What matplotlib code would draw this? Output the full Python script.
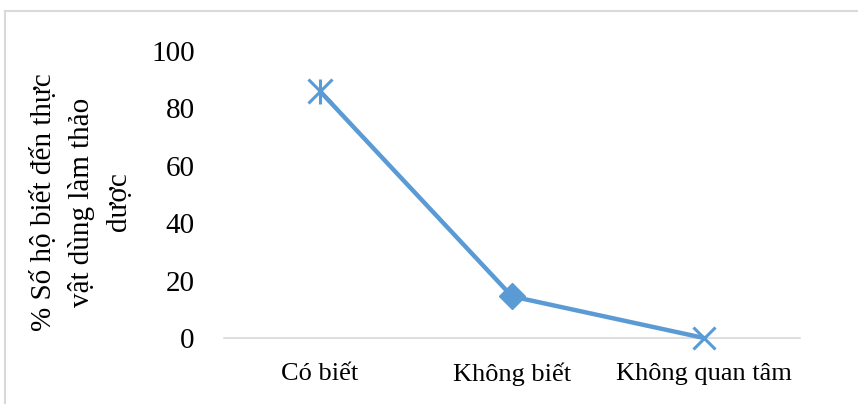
import matplotlib.pyplot as plt
from matplotlib.lines import Line2D

# Share of households that know which plants are used as herbal medicine
categories = ["Có biết", "Không biết", "Không quan tâm"]
percent = [86, 14.5, 0]
y_ticks = [0, 20, 40, 60, 80, 100]
y_label = "% Số hộ biết đến thực\nvật dùng làm thảo\ndược"

line_color = "#5B9BD5"
point_markers = ["star", "D", "x"]

plt.rcParams["font.family"] = ["Liberation Serif", "DejaVu Serif"]

W, H = 858, 404
fig = plt.figure(figsize=(W / 100, H / 100), dpi=100)
ax = fig.add_axes([224 / W, 1 - 338 / H, 576 / W, 287 / H])

x = list(range(len(categories)))
ax.plot(x, percent, color=line_color, lw=3.2, solid_capstyle="round", zorder=3,
        clip_on=False)

for xi, yi, m in zip(x, percent, point_markers):
    if m == "star":
        # X with a vertical stroke through it
        ax.plot(xi, yi, marker="x", ms=17, mew=2.2, color=line_color, zorder=4, clip_on=False)
        ax.plot(xi, yi, marker="|", ms=18, mew=2.2, color=line_color, zorder=4, clip_on=False)
    elif m == "D":
        ax.plot(xi, yi, marker="D", ms=13, color=line_color, mec=line_color, zorder=4,
                clip_on=False)
    else:
        ax.plot(xi, yi, marker="x", ms=16, mew=2.2, color=line_color, zorder=4, clip_on=False)

ax.set_xlim(-0.5, len(categories) - 0.5)
ax.set_ylim(0, 100)
ax.set_yticks(y_ticks)
ax.set_yticklabels([str(v) for v in y_ticks], fontsize=21)
ax.set_xticks(x)
ax.set_xticklabels(categories, fontsize=19)
ax.tick_params(axis="y", length=0, pad=21)
ax.tick_params(axis="x", length=0, pad=18)

for side in ["top", "right", "left"]:
    ax.spines[side].set_visible(False)
ax.spines["bottom"].set_color("#D9D9D9")
ax.spines["bottom"].set_linewidth(1.2)
ax.set_facecolor("none")

fig.text(81 / W, 1 - 202 / H, y_label, rotation=90, ha="center", va="center",
         multialignment="center", fontsize=21, linespacing=1.55)

# thin grey frame on the top and left edges
fig.add_artist(Line2D([5 / W, 1], [1 - 11 / H, 1 - 11 / H], color="#D9D9D9", lw=1.5))
fig.add_artist(Line2D([5 / W, 5 / W], [0, 1 - 11 / H], color="#D9D9D9", lw=1.5))

fig.savefig("out.png", dpi=100)
